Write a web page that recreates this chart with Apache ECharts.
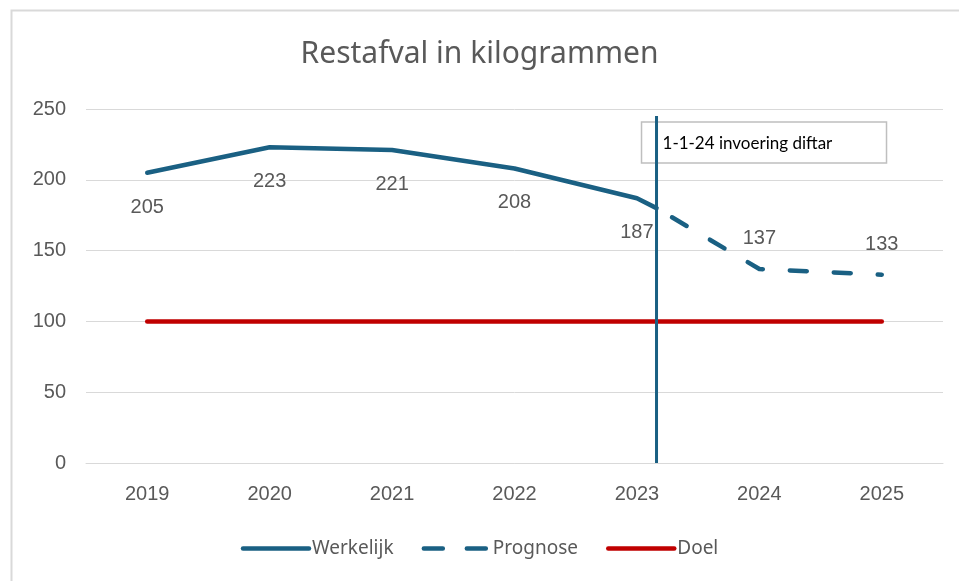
<!DOCTYPE html>
<html><head><meta charset="utf-8">
<script src="https://cdn.jsdelivr.net/npm/echarts@6/dist/echarts.min.js"></script>
<style>html,body{margin:0;padding:0;background:#fff}#c{width:959px;height:581px}</style>
</head><body><div id="c"></div>
<script>
var years = ['2019','2020','2021','2022','2023','2024','2025'];
var werkelijkX = [0, 1, 2, 3, 4, 4.16];
var werkelijk = [205, 223, 221, 208, 187, 180];
var werkelijkLabels = [true, true, true, true, true, false];
var prognoseX = [4.16, 5, 6];
var prognose = [180, 137, 133];
var prognoseLabels = [false, true, true];
var doelX = [0, 6];
var doel = [100, 100];
var markerX = [4.16, 4.16];
var markerY = [0, 245];
var markerText = '1-1-24 invoering diftar';

var blue = '#1A6083', red = '#C00000', txt = '#595959', grid = '#D9D9D9';
function pairs(xs, ys, lbl) {
  return xs.map(function (x, i) {
    var d = { value: [x, ys[i]] };
    if (lbl) d.label = { show: lbl[i] };
    return d;
  });
}
var labelFont = { color: txt, fontSize: 20, fontFamily: 'Liberation Sans' };
var chart = echarts.init(document.getElementById('c'));
chart.setOption({
  animation: false,
  title: { text: 'Restafval in kilogrammen', left: 'center', top: 34,
    textStyle: { fontFamily: 'Noto Sans', fontSize: 30, fontWeight: 'normal', color: txt } },
  grid: { left: 86, right: 16, top: 109, bottom: 118 },
  legend: {
    bottom: 18, left: 'center', itemWidth: 66, itemHeight: 14, itemGap: 28,
    itemStyle: { opacity: 0 },
    lineStyle: { width: 4.5, cap: 'round' },
    textStyle: { fontFamily: 'Noto Sans', fontSize: 19, color: txt, padding: [0, 0, 0, -2] },
    data: ['Werkelijk',
      { name: 'Prognose', lineStyle: { width: 4.5, cap: 'round', type: [19, 24], dashOffset: 0 } },
      'Doel']
  },
  xAxis: [
    { type: 'category', data: years, boundaryGap: true,
      axisLine: { lineStyle: { color: grid, width: 1 } }, axisTick: { show: false },
      axisLabel: Object.assign({ margin: 21 }, labelFont) },
    { type: 'value', min: -0.5, max: 6.5, show: false }
  ],
  yAxis: { type: 'value', min: 0, max: 250, interval: 50,
    axisLine: { show: false }, axisTick: { show: false },
    splitLine: { lineStyle: { color: grid, width: 1 } },
    axisLabel: Object.assign({ margin: 20 }, labelFont) },
  series: [
    { name: 'Werkelijk', type: 'line', xAxisIndex: 1, symbol: 'circle', symbolSize: 1, showSymbol: true, z: 3,
      data: pairs(werkelijkX, werkelijk, werkelijkLabels),
      lineStyle: { color: blue, width: 4.5, cap: 'round', join: 'round' }, itemStyle: { color: blue },
      label: Object.assign({ show: true, position: 'bottom', distance: 24 }, labelFont) },
    { name: 'Prognose', type: 'line', xAxisIndex: 1, symbol: 'circle', symbolSize: 1, showSymbol: true, z: 3,
      data: pairs(prognoseX, prognose, prognoseLabels),
      lineStyle: { color: blue, width: 4.5, type: [17, 27], dashOffset: -18, cap: 'round', join: 'round' }, itemStyle: { color: blue },
      label: Object.assign({ show: true, position: 'top', distance: 20 }, labelFont) },
    { name: 'Doel', type: 'line', xAxisIndex: 1, symbol: 'none', z: 2,
      data: pairs(doelX, doel),
      lineStyle: { color: red, width: 4.5, cap: 'round' }, itemStyle: { color: red } },
    { name: 'marker', type: 'line', xAxisIndex: 1, symbol: 'none', z: 4,
      data: pairs(markerX, markerY),
      lineStyle: { color: blue, width: 3 }, itemStyle: { color: blue } }
  ]
});
var mk = chart.convertToPixel({ xAxisIndex: 1, yAxisIndex: 0 }, [markerX[1], markerY[1]]);
chart.setOption({
  graphic: [
    { type: 'rect', left: 9, top: 8, shape: { width: 1000, height: 1000 },
      style: { fill: 'none', stroke: '#D9D9D9', lineWidth: 2 }, silent: true },
    { type: 'group', x: mk[0] - 15, y: mk[1] + 6, z: 10, children: [
      { type: 'rect', shape: { x: 0, y: 0, width: 245, height: 41 },
        style: { fill: '#fff', stroke: '#BFBFBF', lineWidth: 1.5 } },
      { type: 'text', x: 21, y: 21, style: { text: markerText, fill: '#000', font: '17px Lato', verticalAlign: 'middle' } }
    ] }
  ]
});
</script></body></html>
